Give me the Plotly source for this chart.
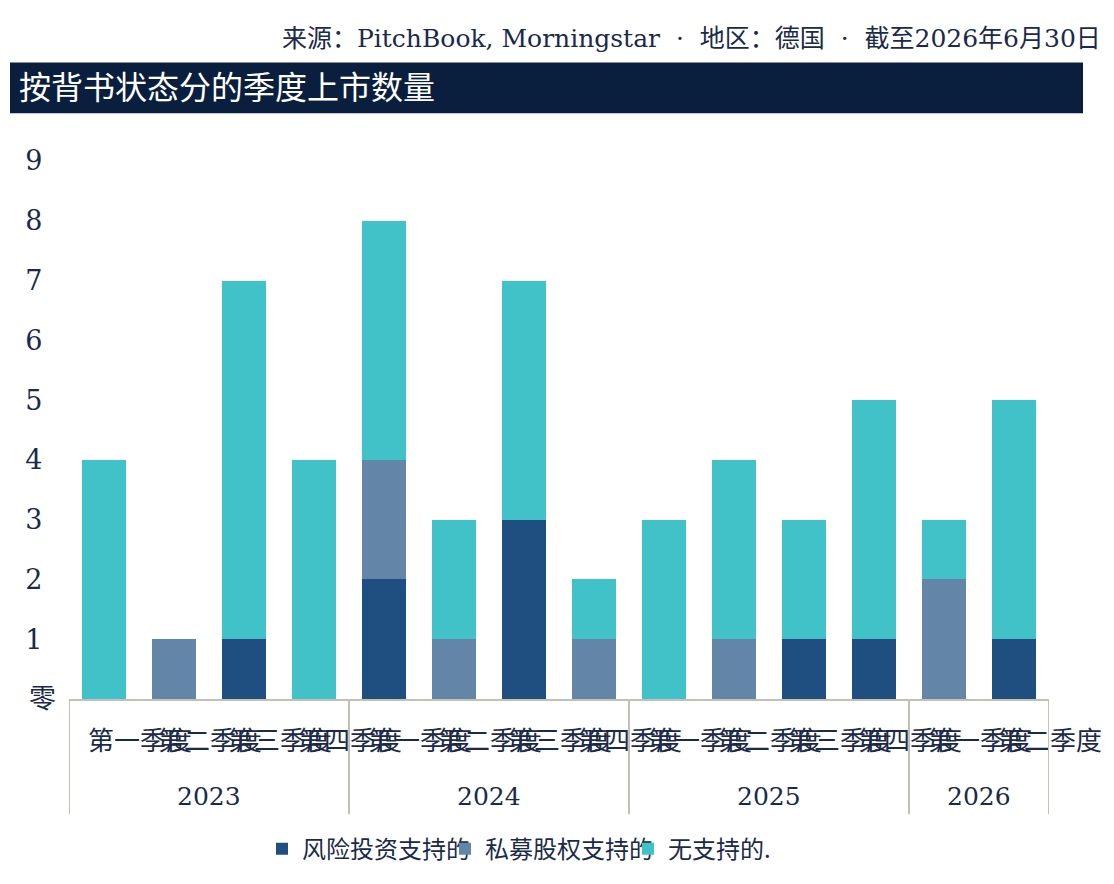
import plotly.graph_objects as go

years = ["2023"] * 4 + ["2024"] * 4 + ["2025"] * 4 + ["2026"] * 2
quarters = ["第一季度", "第二季度", "第三季度", "第四季度"] * 3 + ["第一季度", "第二季度"]
vc_backed = [0, 0, 1, 0, 2, 0, 3, 0, 0, 0, 1, 1, 0, 1]
pe_backed = [0, 1, 0, 0, 2, 1, 0, 1, 0, 1, 0, 0, 2, 0]
not_backed = [4, 0, 6, 4, 4, 2, 4, 1, 3, 3, 2, 4, 1, 4]
series_names = ["风险投资支持的", "私募股权支持的", "无支持的."]
y_tick_vals = [0, 1, 2, 3, 4, 5, 6, 7, 8, 9]
y_tick_text = ["零", "1", "2", "3", "4", "5", "6", "7", "8", "9"]

colors = ["#1f4e80", "#6385a8", "#41c1c8"]
FONT = "DejaVu Serif, Noto Sans CJK SC, serif"
TXT = "#1b2a48"
GRID = "#c4c0b4"

W, H = 1114, 884
L, R, T, B = 69, 65, 161, 182
pw, ph = W - L - R, H - T - B

def px(x):
    return (x - L) / pw

def py(y):
    return (H - B - y) / ph

xpos = list(range(len(quarters)))

fig = go.Figure()
for name, vals, c in zip(series_names, [vc_backed, pe_backed, not_backed], colors):
    fig.add_trace(go.Bar(x=xpos, y=vals, name=name, marker=dict(color=c, line=dict(width=0))))

# year groups: labels and dividers from the years list
groups = []
for i, yv in enumerate(years):
    if not groups or groups[-1][0] != yv:
        groups.append([yv, i, i])
    else:
        groups[-1][2] = i

shapes = [dict(type="rect", xref="paper", yref="paper", x0=px(10), x1=px(1083), y0=py(113), y1=py(62),
               fillcolor="#0a1f3d", line=dict(width=0), layer="above")]
annotations = [
    dict(text="按背书状态分的季度上市数量", xref="paper", yref="paper", x=px(17), y=py(88),
         xanchor="left", yanchor="middle", showarrow=False, font=dict(size=32, color="white")),
    dict(text="来源：PitchBook, Morningstar\u00a0\u00a0·\u00a0\u00a0地区：德国\u00a0\u00a0·\u00a0\u00a0截至2026年6月30日",
         xref="paper", yref="paper", x=px(1103), y=py(38), xanchor="right", yanchor="middle",
         showarrow=False, font=dict(size=25, color=TXT)),
]
bounds = [groups[0][1] - 0.5] + [g[2] + 0.5 for g in groups]
for b in bounds:
    shapes.append(dict(type="line", xref="x", yref="paper", x0=b, x1=b, y0=0, y1=py(818),
                       line=dict(color=GRID, width=2)))
for yv, a, b in groups:
    annotations.append(dict(text=yv, xref="x", yref="paper", x=(a + b) / 2, y=py(800),
                            xanchor="center", yanchor="middle", showarrow=False,
                            font=dict(size=25, color=TXT)))

# left-align the tick labels like the reference by padding digits
y_tick_labels = [t + "\u2002" if t.isdigit() else t for t in y_tick_text]

fig.update_layout(
    width=W, height=H,
    barmode="stack", bargap=0.37,
    margin=dict(l=L, r=R, t=T, b=B),
    plot_bgcolor="white", paper_bgcolor="white",
    font=dict(family=FONT, color=TXT, size=26),
    showlegend=True,
    legend=dict(orientation="h", x=px(262), xanchor="left", y=py(853), yanchor="middle",
                font=dict(size=24, color=TXT, family="Noto Sans CJK SC, sans-serif"),
                entrywidth=138, entrywidthmode="pixels", itemwidth=30, traceorder="normal"),
    xaxis=dict(range=[-0.5, len(quarters) - 0.5], tickvals=xpos, ticktext=quarters, tickangle=0,
               showline=True, linecolor=GRID, linewidth=2, showgrid=False, zeroline=False, ticks="",
               ticklabelshift=36, ticklabelstandoff=18,
               tickfont=dict(size=26, color=TXT, family="Noto Sans CJK SC, sans-serif")),
    yaxis=dict(range=[0, 9], tickvals=y_tick_vals, ticktext=y_tick_labels, showgrid=False,
               zeroline=False, showline=False, ticks="", ticklabelstandoff=12,
               tickfont=dict(size=27, color=TXT)),
    shapes=shapes,
    annotations=annotations,
)

fig.write_html("out.html")
